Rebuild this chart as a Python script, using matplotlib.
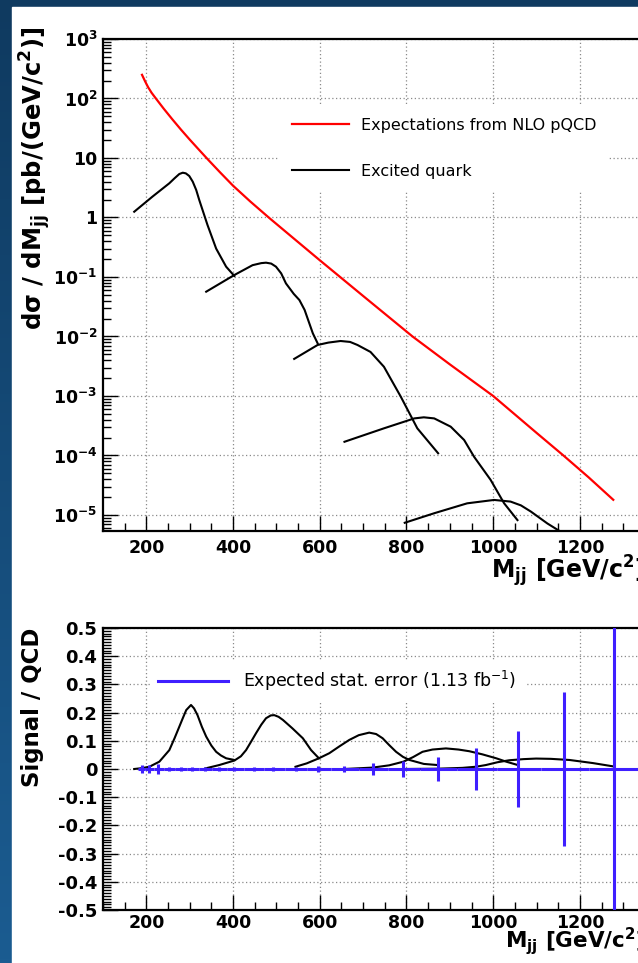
import numpy as np
import matplotlib
matplotlib.use('Agg')
import matplotlib.pyplot as plt
from matplotlib.lines import Line2D
from matplotlib.patches import Rectangle
from matplotlib.ticker import FixedLocator, FixedFormatter, MultipleLocator, LogLocator, NullFormatter

W, H = 638, 963
plt.rcParams['font.family'] = ['DejaVu Sans']
plt.rcParams['font.weight'] = 'bold'

# NLO pQCD expectation (red)
qcd_m = [190, 197, 204, 212, 222, 240, 260, 280, 300, 322, 343, 370, 400, 440, 484, 540, 599, 700,
         814, 900, 1000, 1100, 1162, 1220, 1277]
qcd_xs = [250, 195, 155, 125, 100, 67.5, 44.6, 29.9, 20.4, 13.6, 9.27, 5.74, 3.42, 1.85, 0.975, 0.444,
          0.194, 0.048, 0.01, 0.0034, 1e-3, 2.4e-4, 1e-4, 4.3e-5, 1.8e-5]

# excited quark signal shapes (top panel)
q1_m = [172, 214, 253, 265, 276, 284, 291, 299, 307, 315, 322, 341, 361, 384, 403]
q1_xs = [1.25, 2.24, 3.76, 4.56, 5.38, 5.66, 5.52, 4.98, 4.0, 2.9, 1.97, 0.75, 0.30, 0.149, 0.104]
q2_m = [338, 403, 445, 465, 476, 488, 499, 511, 522, 540, 553, 565, 584, 595]
q2_xs = [0.0566, 0.108, 0.158, 0.171, 0.174, 0.168, 0.149, 0.115, 0.078, 0.052, 0.041, 0.028, 0.0113, 0.0077]
q3_m = [541, 595, 620, 648, 670, 687, 717, 748, 787, 825, 873]
q3_xs = [0.0042, 0.0072, 0.0079, 0.0084, 0.0081, 0.0072, 0.0055, 0.0031, 9.7e-4, 2.86e-4, 1.09e-4]
q4_m = [657, 748, 818, 840, 864, 902, 933, 956, 994, 1025, 1056]
q4_xs = [1.7e-4, 2.86e-4, 4.2e-4, 4.38e-4, 4.2e-4, 3.05e-4, 1.82e-4, 9.5e-5, 3.9e-5, 1.58e-5, 8.2e-6]
q5_m = [796, 864, 940, 1002, 1040, 1064, 1087, 1125, 1160]
q5_xs = [7.4e-6, 1.07e-5, 1.57e-5, 1.79e-5, 1.68e-5, 1.45e-5, 1.14e-5, 7.2e-6, 5.0e-6]

# signal / QCD ratio (bottom panel)
r1_m = [172, 190, 207, 230, 253, 265, 276, 284, 292, 303, 310, 318, 328, 338, 350, 361, 372, 384, 403]
r1_v = [0.0, 0.003, 0.008, 0.026, 0.067, 0.109, 0.15, 0.18, 0.209, 0.227, 0.215, 0.191, 0.15, 0.115,
        0.083, 0.061, 0.048, 0.038, 0.032]
r2_m = [336, 368, 403, 418, 430, 442, 453, 465, 476, 487, 495, 505, 515, 537, 561, 580, 598]
r2_v = [0.002, 0.014, 0.03, 0.045, 0.067, 0.098, 0.127, 0.157, 0.18, 0.19, 0.191, 0.185, 0.174, 0.144,
        0.109, 0.067, 0.038]
r3_m = [544, 570, 598, 622, 645, 668, 690, 714, 730, 745, 760, 776, 792, 807, 840, 872]
r3_v = [0.008, 0.02, 0.038, 0.056, 0.08, 0.103, 0.12, 0.129, 0.124, 0.109, 0.085, 0.061, 0.043, 0.032,
        0.018, 0.014]
r4_m = [657, 722, 760, 793, 815, 837, 860, 891, 920, 945, 975, 1007, 1030, 1057]
r4_v = [0.0, 0.005, 0.013, 0.026, 0.042, 0.061, 0.069, 0.073, 0.069, 0.063, 0.052, 0.038, 0.026, 0.014]
r5_m = [793, 870, 929, 960, 983, 1010, 1037, 1070, 1099, 1133, 1176, 1230, 1278]
r5_v = [0.0, 0.001, 0.004, 0.008, 0.014, 0.024, 0.031, 0.035, 0.037, 0.036, 0.032, 0.021, 0.009]

# expected statistical error per mass bin
bin_c = [190, 207, 228, 253, 280, 306, 336, 368, 403, 449, 493, 545, 597, 657, 722, 793, 872, 960, 1057, 1164, 1278]
bin_edges = [180, 198, 217, 240, 266, 293, 321, 352, 385, 426, 471, 519, 571, 627, 690, 757, 832, 916, 1008, 1110, 1221, 1420]
stat_err = [0.013, 0.013, 0.018, 0.008, 0.008, 0.008, 0.008, 0.008, 0.008, 0.008, 0.008, 0.008, 0.009,
            0.011, 0.02, 0.028, 0.044, 0.076, 0.134, 0.273, 0.8]

log_ticks = [1e-5, 1e-4, 1e-3, 1e-2, 1e-1, 1, 10, 100, 1000]
log_labels = [r'$\mathdefault{10^{-5}}$', r'$\mathdefault{10^{-4}}$', r'$\mathdefault{10^{-3}}$',
              r'$\mathdefault{10^{-2}}$', r'$\mathdefault{10^{-1}}$', '1', '10',
              r'$\mathdefault{10^{2}}$', r'$\mathdefault{10^{3}}$']
ratio_ticks = [-0.5, -0.4, -0.3, -0.2, -0.1, 0, 0.1, 0.2, 0.3, 0.4, 0.5]
ratio_labels = ['-0.5', '-0.4', '-0.3', '-0.2', '-0.1', '0', '0.1', '0.2', '0.3', '0.4', '0.5']

fig = plt.figure(figsize=(W / 100, H / 100), dpi=100)

# slide background
bg = fig.add_axes([0, 0, 1, 1])
grad = np.linspace(0, 1, 256)[:, None]
top_c = np.array([15, 58, 96]) / 255.
bot_c = np.array([27, 92, 145]) / 255.
img = top_c[None, None, :] * (1 - grad[:, :, None]) + bot_c[None, None, :] * grad[:, :, None]
bg.imshow(img, extent=[0, 1, 0, 1], aspect='auto', origin='upper')
bg.add_patch(Rectangle((12 / W, 0), 1, 1 - 7 / H, color='white'))
bg.set_xlim(0, 1)
bg.set_ylim(0, 1)
bg.axis('off')

blue = '#3f1fff'
grid_kw = dict(ls=(0, (1, 2)), color='#8a8a8a', lw=0.9)


def style(ax, xpad=6):
    for s in ax.spines.values():
        s.set_linewidth(1.6)
    ax.xaxis.set_major_locator(MultipleLocator(200))
    ax.xaxis.set_minor_locator(MultipleLocator(50))
    ax.tick_params(which='both', direction='in', top=False, right=False, width=1)
    ax.tick_params(which='major', length=11, labelsize=12.5)
    ax.tick_params(which='minor', length=5.5)
    ax.tick_params(axis='x', pad=xpad)
    ax.tick_params(axis='y', pad=4)
    ax.set_axisbelow(True)
    ax.grid(True, which='major', **grid_kw)


# ---- top panel
ax1 = fig.add_axes([103 / W, 1 - 531 / H, 563.6 / W, 492 / H])
ax1.set_yscale('log')
ax1.set_xlim(100, 1400)
ax1.set_ylim(5.38e-6, 1e3)
style(ax1)
ax1.yaxis.set_major_locator(FixedLocator(log_ticks))
ax1.yaxis.set_major_formatter(FixedFormatter(log_labels))
ax1.yaxis.set_minor_locator(LogLocator(base=10, subs=np.arange(2, 10), numticks=20))
ax1.yaxis.set_minor_formatter(NullFormatter())

l_qcd, = ax1.plot(qcd_m, qcd_xs, color='red', lw=1.6)
l_q = None
for m, xs in [(q1_m, q1_xs), (q2_m, q2_xs), (q3_m, q3_xs), (q4_m, q4_xs), (q5_m, q5_xs)]:
    l_q, = ax1.plot(m, xs, color='black', lw=1.5)

ax1.legend([l_qcd, l_q], ['Expectations from NLO pQCD', 'Excited quark'],
           loc='upper left', bbox_to_anchor=(0.312, 0.866), borderaxespad=0,
           frameon=True, fancybox=False, edgecolor='none', facecolor='white', framealpha=1,
           borderpad=0.8, handlelength=3.6, handletextpad=0.75, labelspacing=1.95,
           prop={'size': 11.5, 'weight': 'normal'})

# ---- bottom panel
ax2 = fig.add_axes([103 / W, 1 - 910 / H, 563.6 / W, 282 / H])
ax2.set_xlim(100, 1400)
ax2.set_ylim(-0.5, 0.5)
style(ax2, xpad=3)
ax2.yaxis.set_major_locator(FixedLocator(ratio_ticks))
ax2.yaxis.set_major_formatter(FixedFormatter(ratio_labels))
ax2.yaxis.set_minor_locator(MultipleLocator(0.01))
ax2.tick_params(axis='y', labelsize=13)

for m, v in [(r1_m, r1_v), (r2_m, r2_v), (r3_m, r3_v), (r4_m, r4_v), (r5_m, r5_v)]:
    ax2.plot(m, v, color='black', lw=1.5, zorder=3)

bc = np.array(bin_c, dtype=float)
be = np.array(bin_edges, dtype=float)
xerr = [bc - be[:-1], be[1:] - bc]
ax2.errorbar(bc, np.zeros_like(bc), yerr=stat_err, xerr=xerr, fmt='none',
             ecolor=blue, elinewidth=2.2, capsize=0, zorder=4)

h_err = Line2D([], [], color=blue, lw=2.2)
ax2.legend([h_err], [r'Expected stat. error (1.13 fb$\mathdefault{^{-1}}$)'],
           loc='upper left', bbox_to_anchor=(0.083, 0.885), borderaxespad=0,
           frameon=True, fancybox=False, edgecolor='none', facecolor='white', framealpha=1,
           borderpad=0.5, handlelength=4.0, handletextpad=0.85,
           prop={'size': 12.5, 'weight': 'normal'})

# axis titles, placed like the ROOT layout
fig.text(35 / W, 1 - 27 / H, r'dσ / dM$\mathdefault{_{jj}}$ [pb/(GeV/c$\mathdefault{^{2}}$)]',
         rotation=90, ha='center', va='top', fontsize=17.5)
fig.text(33 / W, 1 - 628 / H, 'Signal / QCD', rotation=90, ha='center', va='top', fontsize=16.5)
fig.text(491 / W, 1 - 578 / H, r'M$\mathdefault{_{jj}}$ [GeV/c$\mathdefault{^{2}}$]',
         ha='left', va='baseline', fontsize=17)
fig.text(505 / W, 1 - 948 / H, r'M$\mathdefault{_{jj}}$ [GeV/c$\mathdefault{^{2}}$]',
         ha='left', va='baseline', fontsize=15.5)

fig.savefig('out.png', dpi=100)
